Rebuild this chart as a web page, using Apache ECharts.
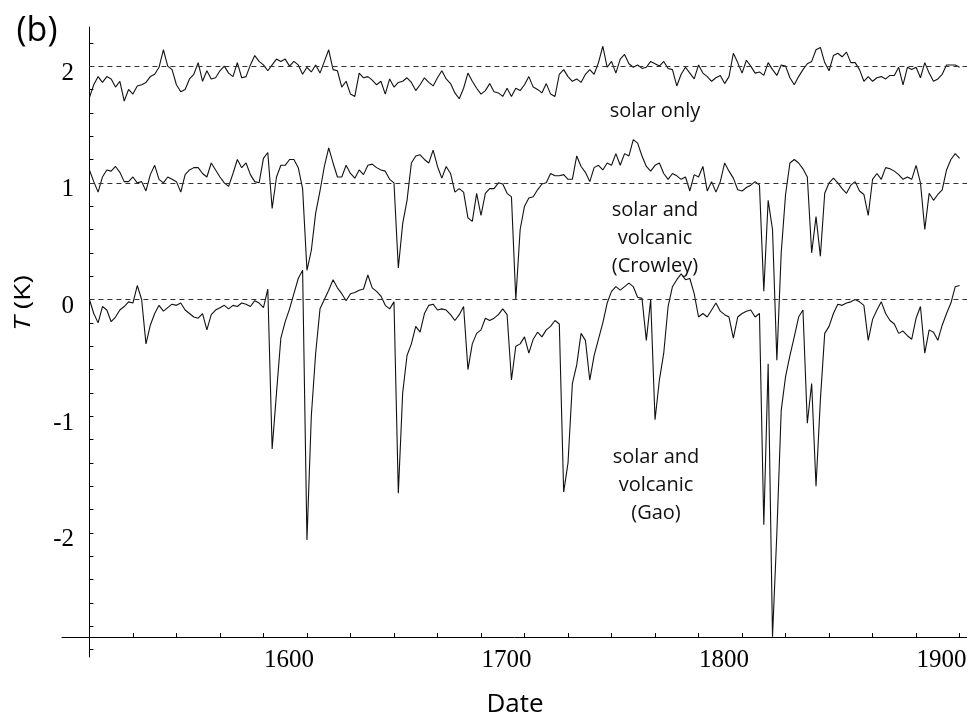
<!DOCTYPE html>
<html>
<head>
<meta charset="utf-8">
<title>T (K) vs Date</title>
<script src="https://cdn.jsdelivr.net/npm/echarts@6.0.0/dist/echarts.min.js"></script>
<style>
  html, body { margin: 0; padding: 0; background: #fff; }
  #chart { width: 967px; height: 722px; }
</style>
</head>
<body>
<div id="chart"></div>
<script>
// sampled every 2 years, 1500..1900
const years = [];
for (let y = 1500; y <= 1900; y += 2) years.push(y);

const solarOnly = [
  1.73, 1.84, 1.91, 1.86, 1.91, 1.89, 1.82, 1.87, 1.70, 1.80,
  1.76, 1.83, 1.84, 1.86, 1.91, 1.93, 1.99, 2.14, 2.00, 1.97,
  1.84, 1.78, 1.80, 1.89, 1.93, 2.03, 1.87, 1.96, 1.89, 1.90,
  1.96, 2.00, 1.94, 1.91, 2.03, 1.90, 1.91, 2.01, 2.09, 2.04,
  2.01, 1.96, 2.01, 2.06, 2.04, 2.06, 2.00, 2.04, 2.01, 1.93,
  1.99, 1.95, 2.01, 1.94, 2.04, 2.14, 1.97, 1.96, 1.82, 1.87,
  1.76, 1.74, 1.94, 1.90, 1.91, 1.88, 1.84, 1.87, 1.76, 1.89,
  1.82, 1.86, 1.87, 1.90, 1.86, 1.79, 1.84, 1.90, 1.86, 1.83,
  1.90, 1.96, 1.89, 1.85, 1.77, 1.72, 1.81, 1.94, 1.87, 1.81,
  1.76, 1.79, 1.85, 1.78, 1.77, 1.74, 1.81, 1.74, 1.81, 1.79,
  1.84, 1.91, 1.82, 1.80, 1.77, 1.85, 1.76, 1.74, 1.93, 1.97,
  1.91, 1.87, 1.89, 1.86, 1.93, 1.97, 1.93, 2.03, 2.17, 1.99,
  2.04, 1.94, 2.06, 2.10, 2.02, 1.99, 2.01, 1.98, 1.99, 2.04,
  2.02, 2.00, 2.04, 1.98, 1.97, 1.83, 1.93, 1.99, 1.94, 1.89,
  2.01, 1.94, 1.91, 1.87, 1.90, 1.92, 1.85, 1.91, 2.11, 2.03,
  1.94, 2.05, 2.00, 1.94, 1.95, 1.92, 2.03, 1.97, 1.92, 2.01,
  2.00, 1.90, 1.84, 1.91, 1.97, 2.02, 2.04, 2.14, 2.16, 2.03,
  1.96, 2.09, 2.11, 2.08, 2.12, 2.03, 2.03, 1.97, 1.87, 1.91,
  1.87, 1.90, 1.91, 1.89, 1.92, 1.92, 1.99, 1.84, 1.99, 1.97,
  1.99, 1.90, 2.03, 1.94, 1.87, 1.89, 1.93, 2.01, 2.01, 2.01,
  1.99
];

const solarCrowley = [
  1.11, 1.01, 0.92, 1.05, 1.11, 1.10, 1.14, 1.09, 1.01, 1.01,
  1.05, 1.00, 1.01, 0.93, 1.07, 1.15, 1.03, 1.00, 1.05, 1.03,
  1.01, 0.92, 1.07, 1.11, 1.13, 1.13, 1.08, 1.05, 1.17, 1.11,
  1.05, 1.00, 0.97, 1.08, 1.20, 1.13, 1.17, 1.07, 1.01, 1.00,
  1.21, 1.26, 0.78, 1.05, 1.15, 1.15, 1.20, 1.20, 1.13, 0.95,
  0.25, 0.42, 0.74, 0.93, 1.14, 1.30, 1.17, 1.05, 1.05, 1.15,
  1.08, 1.04, 1.11, 1.07, 1.15, 1.16, 1.13, 1.11, 1.10, 1.03,
  1.00, 0.27, 0.65, 0.85, 1.17, 1.23, 1.24, 1.20, 1.17, 1.28,
  1.14, 1.04, 1.14, 1.08, 0.92, 0.95, 0.92, 0.70, 0.67, 0.91,
  0.72, 0.91, 0.95, 0.95, 1.00, 0.99, 0.91, 0.88, 0.00, 0.60,
  0.80, 0.87, 0.88, 0.94, 0.99, 1.00, 1.08, 1.06, 1.06, 1.07,
  1.03, 1.03, 1.23, 1.14, 1.09, 1.01, 1.13, 1.15, 1.11, 1.17,
  1.15, 1.25, 1.15, 1.25, 1.23, 1.37, 1.34, 1.23, 1.14, 1.10,
  1.15, 1.17, 1.08, 1.03, 1.08, 1.06, 1.03, 1.05, 0.93, 1.07,
  1.05, 1.14, 0.93, 1.01, 0.92, 1.01, 1.17, 1.10, 1.04, 0.94,
  0.93, 0.96, 0.98, 1.01, 0.98, 0.07, 0.85, 0.60, -0.52, 0.40,
  0.90, 1.17, 1.20, 1.17, 1.12, 1.05, 0.40, 0.71, 0.37, 0.91,
  1.00, 1.04, 1.00, 0.95, 0.91, 0.98, 1.01, 0.93, 0.90, 0.72,
  1.03, 1.08, 1.03, 1.13, 1.12, 1.10, 1.07, 1.03, 1.05, 1.03,
  1.15, 1.00, 0.60, 0.91, 0.85, 0.90, 0.94, 1.11, 1.20, 1.25,
  1.21
];

const solarGao = [
  0.00, -0.12, -0.20, -0.06, -0.09, -0.19, -0.15, -0.09, -0.06, -0.02,
  -0.03, 0.12, 0.00, -0.38, -0.22, -0.12, -0.05, -0.10, -0.07, -0.04,
  -0.05, -0.03, -0.09, -0.12, -0.15, -0.16, -0.12, -0.26, -0.13, -0.09,
  -0.07, -0.05, -0.08, -0.05, -0.06, -0.03, -0.04, -0.06, -0.01, -0.03,
  -0.07, 0.09, -1.28, -0.80, -0.33, -0.19, -0.08, 0.05, 0.18, 0.25,
  -2.06, -1.00, -0.46, -0.08, 0.00, 0.08, 0.17, 0.10, 0.05, -0.01,
  0.05, 0.06, 0.08, 0.09, 0.21, 0.10, 0.07, 0.03, -0.05, -0.08,
  -0.02, -1.66, -0.80, -0.48, -0.38, -0.23, -0.28, -0.12, -0.05, -0.04,
  -0.09, -0.08, -0.09, -0.13, -0.18, -0.13, -0.06, -0.60, -0.38, -0.29,
  -0.26, -0.16, -0.18, -0.16, -0.13, -0.08, -0.13, -0.69, -0.40, -0.38,
  -0.32, -0.46, -0.34, -0.28, -0.32, -0.26, -0.23, -0.18, -0.21, -1.65,
  -1.40, -0.72, -0.56, -0.29, -0.35, -0.69, -0.48, -0.34, -0.20, -0.03,
  0.07, 0.11, 0.08, 0.11, 0.14, 0.11, 0.02, 0.01, -0.35, 0.00,
  -1.03, -0.69, -0.46, -0.06, 0.11, 0.17, 0.22, 0.17, 0.18, 0.05,
  -0.15, -0.12, -0.15, -0.09, -0.03, -0.10, -0.13, -0.15, -0.33, -0.15,
  -0.12, -0.10, -0.09, -0.15, -0.12, -1.93, -0.55, -2.89, -2.00, -0.95,
  -0.66, -0.48, -0.32, -0.15, -0.09, -1.06, -0.72, -1.60, -0.86, -0.29,
  -0.23, -0.12, -0.04, -0.05, -0.03, -0.02, 0.00, -0.02, -0.05, -0.35,
  -0.17, -0.09, -0.02, -0.12, -0.18, -0.21, -0.29, -0.27, -0.31, -0.34,
  -0.16, -0.06, -0.46, -0.26, -0.28, -0.35, -0.22, -0.12, -0.03, 0.11,
  0.12
];

const refLevels = [0, 1, 2];
const xLabels = [1600, 1700, 1800, 1900];
const xTicks = [1520, 1540, 1560, 1580, 1600, 1620, 1640, 1660, 1680, 1700,
  1720, 1740, 1760, 1780, 1800, 1820, 1840, 1860, 1880, 1900];
const yLabels = [-2, -1, 0, 1, 2];
const yTicks = [-3, -2.8, -2.6, -2.4, -2.2, -2, -1.8, -1.6, -1.4, -1.2, -1, -0.8,
  -0.6, -0.4, -0.2, 0, 0.2, 0.4, 0.6, 0.8, 1, 1.2, 1.4, 1.6, 1.8, 2, 2.2];

// axis extent and the point where the two axes cross
const xMin = 1487.4, xMax = 1903.4;
const yMin = -3.063, yMax = 2.335;
const crossX = 1500, crossY = -2.892;

const chart = echarts.init(document.getElementById('chart'));

function traceSeries(name, values, extra) {
  return Object.assign({
    name: name,
    type: 'line',
    data: values.map((v, i) => [years[i], v]),
    symbol: 'none',
    showSymbol: false,
    silent: true,
    lineStyle: { color: '#111', width: 1.1 }
  }, extra || {});
}

const serif = 'Liberation Serif';
const sans = 'Open Sans';
const centered = { align: 'center', verticalAlign: 'middle', textAlign: 'center', textVerticalAlign: 'middle' };

const option = {
  animation: false,
  backgroundColor: '#fff',
  grid: { left: 62, right: 0, top: 27, bottom: 65, containLabel: false, outerBoundsMode: 'none' },
  xAxis: [
    {
      type: 'value', min: xMin, max: xMax,
      axisLine: { onZero: true, onZeroAxisIndex: 1, lineStyle: { color: '#000', width: 1 } },
      axisTick: { inside: true, length: 4, customValues: xTicks, lineStyle: { color: '#000' } },
      // labels stay at the grid edge, not at the moved axis line, hence the negative margin
      axisLabel: {
        customValues: xLabels, margin: -9, color: '#000',
        fontFamily: serif, fontSize: 25, padding: [0, 36, 0, 0],
        formatter: v => String(v)
      },
      splitLine: { show: false }
    },
    // helper axis: its zero sits at crossX so the y axis line can sit there
    { type: 'value', min: xMin - crossX, max: xMax - crossX, show: false }
  ],
  yAxis: [
    {
      type: 'value', min: yMin, max: yMax,
      axisLine: { onZero: true, onZeroAxisIndex: 1, lineStyle: { color: '#000', width: 1 } },
      axisTick: { inside: true, length: 4, customValues: yTicks, lineStyle: { color: '#000' } },
      axisLabel: {
        customValues: yLabels, margin: -12, color: '#000',
        fontFamily: serif, fontSize: 25, verticalAlign: 'top', lineHeight: 14,
        formatter: v => String(v)
      },
      splitLine: { show: false }
    },
    { type: 'value', min: yMin - crossY, max: yMax - crossY, show: false }
  ],
  series: [
    traceSeries('solar only', solarOnly),
    traceSeries('solar and volcanic (Crowley)', solarCrowley),
    traceSeries('solar and volcanic (Gao)', solarGao, {
      markLine: {
        silent: true,
        symbol: 'none',
        label: { show: false },
        lineStyle: { type: [5, 4], color: '#333', width: 1 },
        data: refLevels.map(v => [{ coord: [crossX, v] }, { coord: [xMax, v] }])
      }
    })
  ],
  graphic: [
    {
      type: 'text', x: 37, y: 31,
      style: Object.assign({ text: '(b)', fontFamily: sans, fontSize: 34, fill: '#000' }, centered)
    },
    {
      type: 'text', x: 24, y: 303, rotation: Math.PI / 2, scaleX: 1.35,
      style: Object.assign({
        text: '{i|T} {n|(K)}', fill: '#000',
        fontFamily: sans, fontSize: 21,
        rich: {
          i: { fontFamily: sans, fontSize: 21, fontStyle: 'italic', fill: '#000' },
          n: { fontFamily: sans, fontSize: 21, fill: '#000' }
        }
      }, centered)
    },
    {
      type: 'text', x: 515, y: 705,
      style: Object.assign({ text: 'Date', fontFamily: sans, fontSize: 26, fill: '#000' }, centered)
    },
    {
      type: 'text', x: 655, y: 111,
      style: Object.assign({ text: 'solar only', fontFamily: sans, fontSize: 20, fill: '#111' }, centered)
    },
    {
      type: 'text', x: 655, y: 238,
      style: Object.assign({ text: 'solar and\nvolcanic\n(Crowley)', fontFamily: sans, fontSize: 20, lineHeight: 28, fill: '#111' }, centered)
    },
    {
      type: 'text', x: 656, y: 485,
      style: Object.assign({ text: 'solar and\nvolcanic\n(Gao)', fontFamily: sans, fontSize: 20, lineHeight: 28, fill: '#111' }, centered)
    }
  ]
};

chart.setOption(option);
</script>
</body>
</html>
